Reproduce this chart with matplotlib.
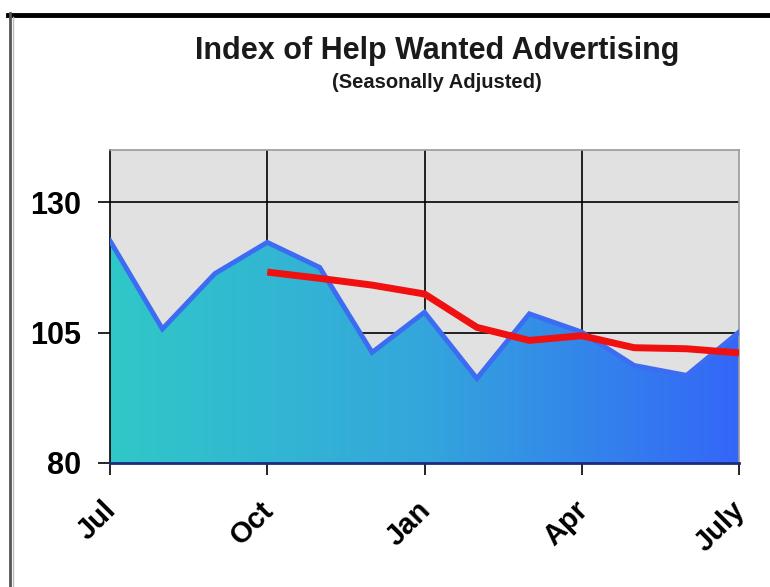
import numpy as np
import matplotlib
matplotlib.use("Agg")
import matplotlib.pyplot as plt
from matplotlib.colors import LinearSegmentedColormap
from matplotlib.lines import Line2D
from matplotlib.transforms import ScaledTranslation

months = ["Jul", "Aug", "Sep", "Oct", "Nov", "Dec", "Jan",
          "Feb", "Mar", "Apr", "May", "Jun", "July"]
index_vals = [122.6, 105.7, 116.3, 122.3, 117.5, 101.2, 108.9,
              96.2, 108.6, 105.1, 98.7, 96.8, 105.1]
# three-month average starts in Oct
avg_months = ["Oct", "Nov", "Dec", "Jan", "Feb", "Mar", "Apr", "May", "Jun", "July"]
avg_vals = [116.6, 115.4, 114.1, 112.4, 106.0, 103.5, 104.4, 102.1, 101.9, 101.1]
tick_labels = ["Jul", "Oct", "Jan", "Apr", "July"]
y_ticks = [80, 105, 130]

plt.rcParams['font.family'] = ['Liberation Sans', 'DejaVu Sans']

fig = plt.figure(figsize=(7.7, 5.87), dpi=100)
ax = fig.add_axes([110 / 770, 1 - 463 / 587, 629 / 770, 313 / 587])
ax.set_facecolor("#e1e1e1")

x = np.arange(len(months))
xa = [months.index(m) for m in avg_months]

ax.set_xlim(0, len(months) - 1)
ax.set_ylim(80, 140)

# grid under the filled area
for v in [3, 6, 9]:
    ax.axvline(v, color="black", lw=1.2, zorder=1)
for v in [105, 130]:
    ax.axhline(v, color="black", lw=1.2, zorder=1)

# gradient filled area
poly = ax.fill_between(x, 80, index_vals, color="none", lw=0, zorder=2)
cmap = LinearSegmentedColormap.from_list("tb", ["#30c8c8", "#34a6dc", "#3366f8"])
grad = np.linspace(0, 1, 256).reshape(1, -1)
im = ax.imshow(grad, cmap=cmap, aspect="auto", extent=[0, 12, 80, 140],
               zorder=2, origin="lower")
path = poly.get_paths()[0]
im.set_clip_path(path, transform=ax.transData)

ax.plot(x, index_vals, color="#3b6cf2", lw=3.5, zorder=3, solid_joinstyle="miter")
ax.plot(xa, avg_vals, color="#f01010", lw=5, zorder=4, solid_capstyle="butt")

ax.set_xticks([months.index(t) for t in tick_labels[:-1]] + [12])
ax.set_xticklabels(tick_labels, rotation=45, ha="right", rotation_mode="anchor",
                   fontsize=21, fontweight="bold")
ax.set_yticks(y_ticks)
ax.set_yticklabels([str(v) for v in y_ticks], fontsize=22, fontweight="bold")
ax.tick_params(axis="both", direction="out", length=8.5, width=1.2, color="black")
ax.tick_params(axis="x", pad=8)
ax.tick_params(axis="y", pad=12)
for lab in ax.get_xticklabels():
    lab.set_transform(lab.get_transform() + ScaledTranslation(-0.08, -0.1, fig.dpi_scale_trans))

for s in ["top", "right"]:
    ax.spines[s].set_color("#999999")
    ax.spines[s].set_linewidth(1.2)
ax.spines["left"].set_color("black")
ax.spines["left"].set_linewidth(1.2)
ax.spines["bottom"].set_color("#1a2a80")
ax.spines["bottom"].set_linewidth(2)
ax.spines["bottom"].set_zorder(5)

fig.text(0.568, 0.913, "Index of Help Wanted Advertising", ha="center", va="center",
         fontsize=22, fontweight="bold", color="#1a1a1a")
fig.text(0.568, 0.859, "(Seasonally Adjusted)", ha="center", va="center",
         fontsize=14.5, fontweight="bold", color="#1a1a1a")

# frame lines
fig.add_artist(Line2D([8 / 770, 1], [1 - 15 / 587, 1 - 15 / 587], color="black", lw=3.5))
fig.add_artist(Line2D([10 / 770, 10 / 770], [0, 1 - 13 / 587], color="#555555", lw=2))
fig.add_artist(Line2D([13 / 770, 13 / 770], [0, 1 - 17 / 587], color="#bbbbbb", lw=1))

fig.savefig("out.png", dpi=100)
